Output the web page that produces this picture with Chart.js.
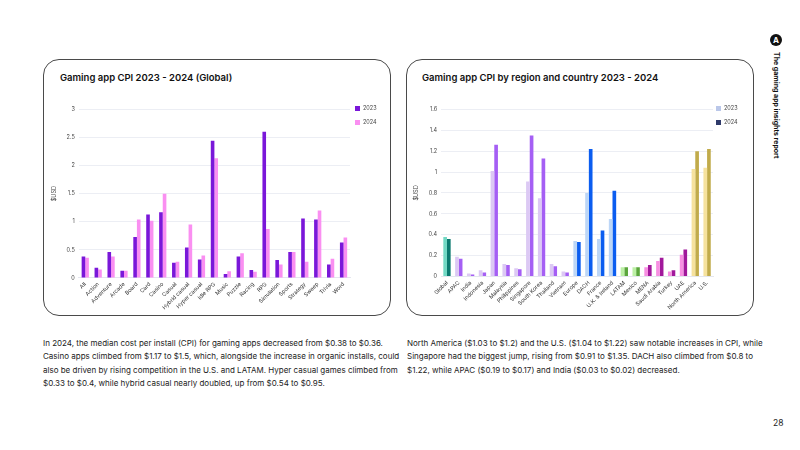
<!DOCTYPE html>
<html>
<head>
<meta charset="utf-8">
<script src="https://cdn.jsdelivr.net/npm/chart.js@4.4.1/dist/chart.umd.min.js"></script>
<style>
  html, body { margin: 0; padding: 0; background: #fff; }
  body { width: 800px; height: 450px; position: relative; overflow: hidden; font-family: Inter, "Open Sans", sans-serif; color: #1d1d1f; }
  .card { position: absolute; top: 59px; width: 348px; height: 257px; border: 1.5px solid #4a4a4a; border-radius: 16px; box-sizing: border-box; }
  .title { position: absolute; top: 72px; font-size: 9.5px; font-weight: 600; color: #111; }
  .wrap { position: absolute; top: 102px; height: 212px; }
  .para { position: absolute; top: 337px; font-size: 8px; line-height: 13.3px; color: #222; white-space: nowrap; }
  .side { position: absolute; left: 770px; top: 52px; transform-origin: 0 0; transform: translate(11px, 0) rotate(90deg); font-size: 7px; font-weight: 700; white-space: nowrap; color: #111; }
  .logo { position: absolute; left: 770px; top: 34px; width: 12px; height: 12px; border-radius: 50%; background: #111; color: #fff; font-size: 8px; font-weight: 700; line-height: 12px; text-align: center; }
  .page { position: absolute; left: 773px; top: 418px; font-size: 8.5px; color: #222; }
  .legend { position: absolute; top: 104px; font-size: 5.5px; color: #444; line-height: 8px; }
  .legend div { height: 8px; margin-bottom: 6px; white-space: nowrap; }
  .legend span { display: inline-block; width: 5px; height: 5px; margin-right: 3px; vertical-align: -0.5px; }
</style>
</head>
<body>
<div class="card" style="left:43px"></div>
<div class="card" style="left:406px"></div>
<div class="title" style="left:60px">Gaming app CPI 2023 - 2024 (Global)</div>
<div class="title" style="left:422px">Gaming app CPI by region and country 2023 - 2024</div>
<div class="wrap" style="left:47px; width:348px"><canvas id="genre"></canvas></div>
<div class="wrap" style="left:409px; width:346px"><canvas id="region"></canvas></div>
<div class="legend" id="genreLegend" style="left:355px"></div>
<div class="legend" id="regionLegend" style="left:716px"></div>
<div class="para" style="left:43px">In 2024, the median cost per install (CPI) for gaming apps decreased from $0.38 to $0.36.<br>Casino apps climbed from $1.17 to $1.5, which, alongside the increase in organic installs, could<br>also be driven by rising competition in the U.S. and LATAM. Hyper casual games climbed from<br>$0.33 to $0.4, while hybrid casual nearly doubled, up from $0.54 to $0.95.</div>
<div class="para" style="left:407px">North America ($1.03 to $1.2) and the U.S. ($1.04 to $1.22) saw notable increases in CPI, while<br>Singapore had the biggest jump, rising from $0.91 to $1.35. DACH also climbed from $0.8 to<br>$1.22, while APAC ($0.19 to $0.17) and India ($0.03 to $0.02) decreased.</div>
<div class="logo">A</div>
<div class="side">The gaming app insights report</div>
<div class="page">28</div>
<script>
var genres = ["All", "Action", "Adventure", "Arcade", "Board", "Card", "Casino", "Casual", "Hybrid casual", "Hyper casual", "Idle RPG", "Music", "Puzzle", "Racing", "RPG", "Simulation", "Sports", "Strategy", "Sweep", "Trivia", "Word"];
var genre2023 = [0.38, 0.18, 0.46, 0.13, 0.73, 1.13, 1.17, 0.27, 0.54, 0.33, 2.44, 0.07, 0.38, 0.14, 2.6, 0.32, 0.46, 1.06, 1.04, 0.24, 0.63];
var genre2024 = [0.36, 0.15, 0.38, 0.13, 1.04, 1.02, 1.5, 0.29, 0.95, 0.4, 2.13, 0.12, 0.44, 0.11, 0.87, 0.24, 0.46, 0.29, 1.2, 0.34, 0.72];
var genreTicks = [0, 0.5, 1, 1.5, 2, 2.5, 3];

var regions = ["Global", "APAC", "India", "Indonesia", "Japan", "Malaysia", "Philippines", "Singapore", "South Korea", "Thailand", "Vietnam", "Europe", "DACH", "France", "U.K. & Ireland", "LATAM", "Mexico", "MENA", "Saudi Arabia", "Turkey", "UAE", "North America", "U.S."];
var regionGroup = ["global", "apac", "apac", "apac", "apac", "apac", "apac", "apac", "apac", "apac", "apac", "europe", "europe", "europe", "europe", "latam", "latam", "mena", "mena", "mena", "mena", "na", "na"];
var region2023 = [0.38, 0.19, 0.03, 0.06, 1.01, 0.12, 0.08, 0.91, 0.75, 0.12, 0.05, 0.34, 0.8, 0.36, 0.55, 0.09, 0.09, 0.09, 0.15, 0.05, 0.21, 1.03, 1.04];
var region2024 = [0.36, 0.17, 0.02, 0.04, 1.26, 0.11, 0.07, 1.35, 1.13, 0.1, 0.04, 0.33, 1.22, 0.44, 0.82, 0.09, 0.09, 0.11, 0.18, 0.06, 0.26, 1.2, 1.22];
var regionTicks = [0, 0.2, 0.4, 0.6, 0.8, 1, 1.2, 1.4, 1.6];

var lightColors = { global: "#72d9c4", apac: "#dcc9f4", europe: "#bcd6f7", latam: "#bdf0a6", mena: "#f78fe2", na: "#f6e29e" };
var darkColors = { global: "#0b7a6f", apac: "#a55ff4", europe: "#0b5df0", latam: "#5ba63c", mena: "#a1189b", na: "#c1ab4b" };

var tickFont = { family: "Inter", size: 5.5 };

function baseOptions(ticks, padRight) {
    return {
        responsive: true,
        maintainAspectRatio: false,
        animation: false,
        layout: { padding: { top: 6, right: padRight } },
        plugins: {
            legend: { display: false },
            tooltip: { enabled: false }
        },
        scales: {
            x: {
                grid: { display: false, drawTicks: false },
                border: { display: true, color: "#e4e6ee" },
                ticks: { color: "#333", font: tickFont, maxRotation: 45, minRotation: 45, autoSkip: false, padding: 3 }
            },
            y: {
                min: ticks[0],
                max: ticks[ticks.length - 1],
                afterBuildTicks: function (axis) {
                    axis.ticks = ticks.map(function (v) { return { value: v }; });
                },
                grid: { color: "#eceef4", drawTicks: false },
                border: { display: false },
                ticks: {
                    color: "#444", font: tickFont, padding: 4,
                    callback: function (v) { return String(v); }
                },
                title: { display: true, text: "$USD", color: "#444", font: { family: "Inter", size: 5.5 }, padding: { bottom: 5 } }
            }
        }
    };
}

function drawLegend(id, chart, colors) {
    var box = document.getElementById(id);
    chart.data.datasets.forEach(function (ds, i) {
        var row = document.createElement("div");
        row.innerHTML = '<span style="background:' + colors[i] + '"></span>' + ds.label;
        box.appendChild(row);
    });
}

var genreChart = new Chart(document.getElementById("genre"), {
    type: "bar",
    data: {
        labels: genres,
        datasets: [
            { label: "2023", data: genre2023, backgroundColor: "#7a17d9", barPercentage: 1, categoryPercentage: 0.56 },
            { label: "2024", data: genre2024, backgroundColor: "#fa8ff1", barPercentage: 1, categoryPercentage: 0.56 }
        ]
    },
    options: baseOptions(genreTicks, 45)
});
drawLegend("genreLegend", genreChart, ["#7a17d9", "#fa8ff1"]);

var regionChart = new Chart(document.getElementById("region"), {
    type: "bar",
    data: {
        labels: regions,
        datasets: [
            { label: "2023", data: region2023, backgroundColor: regionGroup.map(function (g) { return lightColors[g]; }), barPercentage: 1, categoryPercentage: 0.62 },
            { label: "2024", data: region2024, backgroundColor: regionGroup.map(function (g) { return darkColors[g]; }), barPercentage: 1, categoryPercentage: 0.62 }
        ]
    },
    options: baseOptions(regionTicks, 42)
});
drawLegend("regionLegend", regionChart, ["#bac7e9", "#2f3a6a"]);
</script>
</body>
</html>
